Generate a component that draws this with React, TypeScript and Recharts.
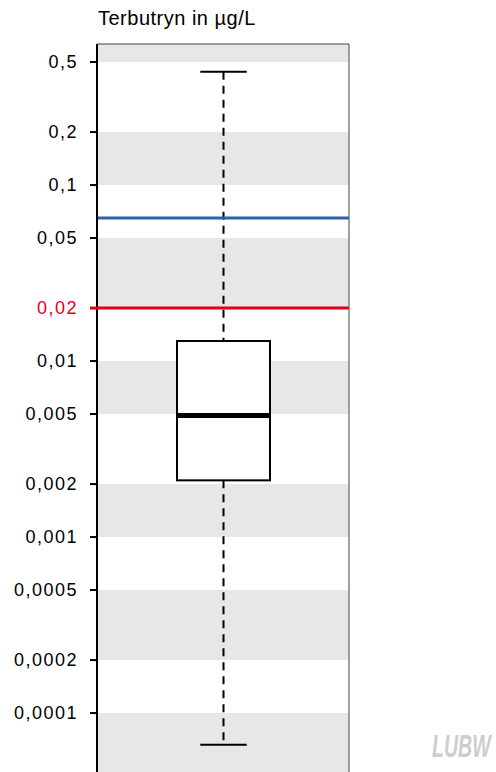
import React from "react";
import {
  ComposedChart,
  Bar,
  XAxis,
  YAxis,
  ReferenceArea,
  ReferenceLine,
} from "recharts";

// box plot statistics (µg/L)
const categories = ["Terbutryn"];
const minValues = [0.000066];
const q1Values = [0.0021];
const medianValues = [0.0049];
const q3Values = [0.013];
const maxValues = [0.44];

// quality thresholds
const blueLimit = 0.065;
const redLimit = 0.02;

const yTicks = [
  0.0001, 0.0002, 0.0005, 0.001, 0.002, 0.005, 0.01, 0.02, 0.05, 0.1, 0.2, 0.5,
];
const yDomain = [0.00004505, 0.633];

// shaded bands between ticks
const bandLows = [0.5, 0.1, 0.02, 0.005, 0.001, 0.0002, yDomain[0]];
const bandHighs = [yDomain[1], 0.2, 0.05, 0.01, 0.002, 0.0005, 0.0001];

const FONT = '"Liberation Sans", Arial, sans-serif';

const chartData = categories.map((name, i) => ({
  name,
  box: [q1Values[i], q3Values[i]],
  min: minValues[i],
  q1: q1Values[i],
  median: medianValues[i],
  q3: q3Values[i],
  max: maxValues[i],
}));

const BoxShape = (props: any) => {
  const { x, y, width, height, payload } = props;
  const logTop = Math.log10(payload.q3);
  const logBot = Math.log10(payload.q1);
  const pxPerLog = height / (logTop - logBot);
  const yOf = (v: number) => y + (logTop - Math.log10(v)) * pxPerLog;
  const cx = x + width / 2;
  const capHalf = width / 4;
  const yMax = yOf(payload.max);
  const yMin = yOf(payload.min);
  const yMed = yOf(payload.median);
  return (
    <g>
      <line x1={cx} x2={cx} y1={yMax} y2={y} stroke="#000" strokeWidth={2} strokeDasharray="8 6" />
      <line x1={cx} x2={cx} y1={y + height} y2={yMin} stroke="#000" strokeWidth={2} strokeDasharray="8 6" />
      <line x1={cx - capHalf} x2={cx + capHalf} y1={yMax} y2={yMax} stroke="#000" strokeWidth={2} />
      <line x1={cx - capHalf} x2={cx + capHalf} y1={yMin} y2={yMin} stroke="#000" strokeWidth={2} />
      <rect x={x} y={y} width={width} height={height} fill="#fff" stroke="#000" strokeWidth={2} />
      <line x1={x} x2={x + width} y1={yMed} y2={yMed} stroke="#000" strokeWidth={5} />
    </g>
  );
};

const YTick = (props: any) => {
  const { x, y, payload } = props;
  const isRed = payload.value === redLimit;
  return (
    <g>
      {isRed && (
        <line x1={x + 12} x2={x + 20} y1={y} y2={y} stroke="#e2001a" strokeWidth={3} />
      )}
      <text
        x={x}
        y={y}
        dy="0.355em"
        textAnchor="end"
        fill={isRed ? "#e2001a" : "#000"}
        fontSize={18}
        letterSpacing={1.5}
        fontFamily={FONT}
      >
        {String(payload.value).replace(".", ",")}
      </text>
    </g>
  );
};

export default function App() {
  return (
    <div
      style={{
        position: "absolute",
        left: 0,
        top: 0,
        width: 496,
        height: 772,
        overflow: "hidden",
        background: "#fff",
        fontFamily: FONT,
      }}
    >
      <div
        style={{
          position: "absolute",
          left: 98,
          top: 7,
          fontSize: 20,
          letterSpacing: 0.5,
          color: "#000",
          whiteSpace: "nowrap",
        }}
      >
        Terbutryn in µg/L
      </div>
      <ComposedChart
        width={496}
        height={774}
        data={chartData}
        margin={{ top: 44, right: 147, bottom: 0, left: 0 }}
      >
        <XAxis dataKey="name" hide />
        <YAxis
          type="number"
          scale="log"
          domain={yDomain}
          allowDataOverflow
          ticks={yTicks}
          interval={0}
          width={97}
          tickSize={7}
          tickMargin={12}
          tickLine={{ stroke: "#000", strokeWidth: 2 }}
          axisLine={{ stroke: "#000", strokeWidth: 2 }}
          tick={<YTick />}
        />
        {bandLows.map((lo, i) => (
          <ReferenceArea
            key={i}
            y1={lo}
            y2={bandHighs[i]}
            fill="#e7e7e7"
            fillOpacity={1}
            stroke="none"
            ifOverflow="hidden"
          />
        ))}
        {/* plot frame: top and right edges (bottom falls below the page) */}
        <ReferenceArea
          y1={yDomain[0]}
          y2={yDomain[1]}
          fill="none"
          stroke="#444"
          strokeWidth={1}
          ifOverflow="visible"
        />
        <Bar dataKey="box" barSize={93} shape={<BoxShape />} isAnimationActive={false} />
        <ReferenceLine y={blueLimit} stroke="#2b63a6" strokeWidth={3} />
        <ReferenceLine y={redLimit} stroke="#e2001a" strokeWidth={3} />
      </ComposedChart>
      <div
        style={{
          position: "absolute",
          left: 432,
          top: 731,
          fontSize: 31,
          fontWeight: 900,
          fontStyle: "italic",
          color: "#cdcdcd",
          transform: "scaleX(0.63)",
          transformOrigin: "left top",
          lineHeight: "31px",
        }}
      >
        LUBW
      </div>
    </div>
  );
}
